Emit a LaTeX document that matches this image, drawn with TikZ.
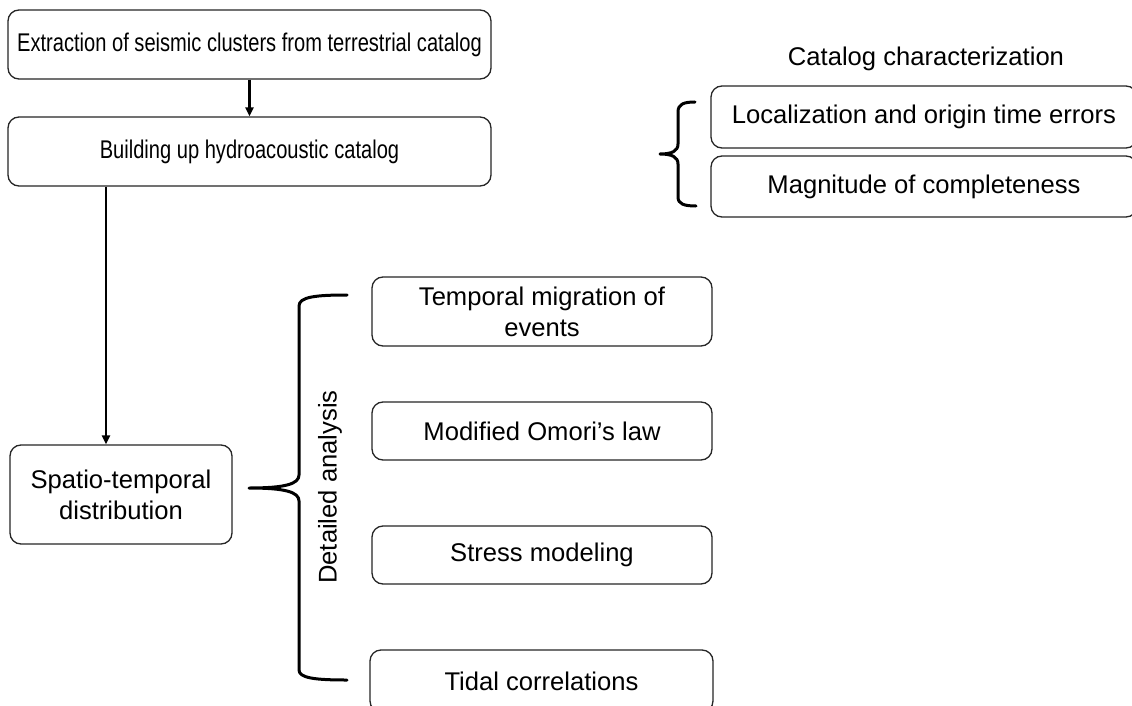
\documentclass[tikz,border=0pt]{standalone}
\usepackage{fontspec}
\setmainfont{Liberation Sans}
\usetikzlibrary{arrows.meta}

% horizontally condensed text for the two wide header boxes
\newcommand{\narrowtext}[1]{\scalebox{0.785}[1]{#1}}

\tikzset{
  box/.style={draw=black!85, line width=1.3pt, rounded corners=11pt, fill=white,
    align=center, inner sep=0pt, text=black},
  large/.style={font=\fontsize{25.6}{30.7}\selectfont},
  flow/.style={draw=black, line width=2.6pt,
    -{Triangle[length=9pt,width=8pt]}},
  brace/.style={draw=black, line width=3pt, line cap=round, line join=round},
}

\begin{document}
\begin{tikzpicture}[x=1pt, y=-1pt]
  \useasboundingbox (0,0) rectangle (1132,706);
  \clip (0,0) rectangle (1132,706);
  \fill[white] (0,0) rectangle (1132,706);

  % main workflow
  \node[box, large, minimum width=483pt, minimum height=69pt] (extract) at (249.5,44.5)
    {\narrowtext{Extraction of seismic clusters from terrestrial catalog}};
  \node[box, large, minimum width=483pt, minimum height=69pt] (build) at (249.5,151.5)
    {\narrowtext{Building up hydroacoustic catalog}};
  \node[box, large, minimum width=222pt, minimum height=99pt] (spatio) at (121,494.5)
    {Spatio-temporal\\distribution};

  % catalog characterization
  \node[large] (cattitle) at (926,59) {Catalog characterization};
  \node[box, large, minimum width=426pt, minimum height=62pt] (loc) at (924,117)
    {Localization and origin time errors};
  \node[box, large, minimum width=426pt, minimum height=61pt] (mc) at (924,186.5)
    {Magnitude of completeness};

  % detailed analysis
  \node[box, large, minimum width=340pt, minimum height=69pt] (migr) at (542,311.5)
    {Temporal migration of\\events};
  \node[box, large, minimum width=340pt, minimum height=58pt] (omori) at (542,431)
    {Modified Omori’s law};
  \node[box, large, minimum width=340pt, minimum height=58pt] (stress) at (542,555)
    {Stress modeling};
  \node[box, large, minimum width=343pt, minimum height=62pt] (tidal) at (541.5,681)
    {Tidal correlations};
  \node[large, rotate=90] (detail) at (330,487) {Detailed analysis};

  % connectors
  \coordinate (downx) at (106,0);
  \draw[flow, line width=2.2pt] (extract.south) -- (build.north);
  \draw[flow] (build.south -| downx) -- (spatio.north -| downx);

  % brace grouping the characterization boxes
  \draw[brace] (695,102) .. controls (684,102) and (678,104) .. (678,112)
    -- (678,144) .. controls (678,151) and (672,154) .. (660,154)
    .. controls (672,154) and (678,157) .. (678,164)
    -- (678,197) .. controls (678,204) and (684,206) .. (696,206);

  % brace grouping the analysis boxes
  \draw[brace] (347,295) .. controls (315,295) and (299,297) .. (299,306)
    -- (299,475) .. controls (299,484) and (285,488) .. (249,488)
    .. controls (285,488) and (299,492) .. (299,501)
    -- (299,670) .. controls (299,678) and (315,680) .. (347,680);
\end{tikzpicture}
\end{document}
